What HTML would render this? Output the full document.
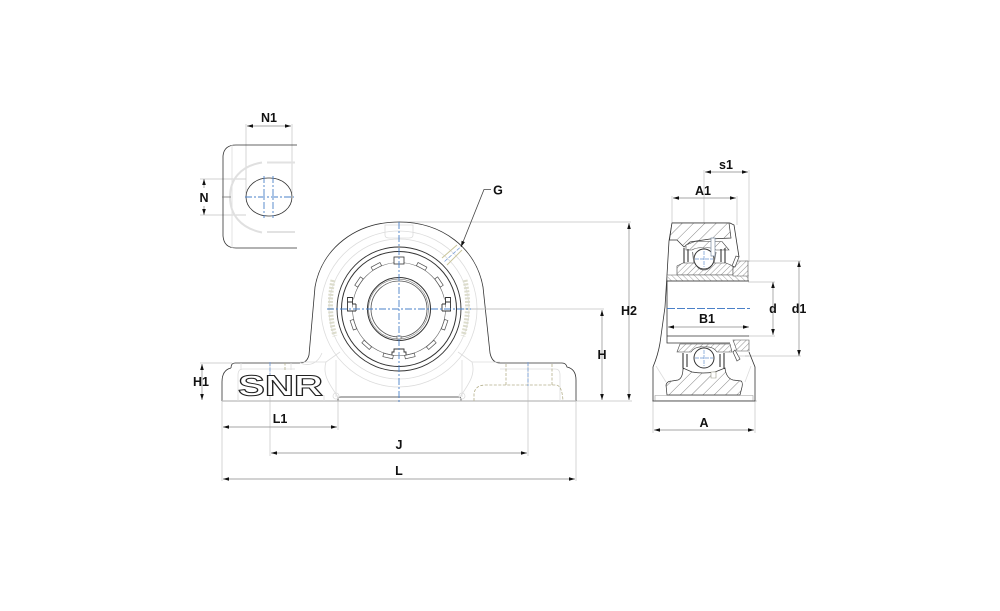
<!DOCTYPE html>
<html><head><meta charset="utf-8"><style>
html,body{margin:0;padding:0;background:#fff;width:1000px;height:611px;overflow:hidden}
svg{display:block}
text{font-family:"Liberation Sans",sans-serif;font-weight:700;font-size:12.5px;fill:#111;text-anchor:middle}
.k{fill:none;stroke:#333;stroke-width:.8}
.g{fill:none;stroke:#dcdcdc;stroke-width:.8}
.e{fill:none;stroke:#c4c4c4;stroke-width:.7}
.d{fill:none;stroke:#888;stroke-width:.7;marker-start:url(#a);marker-end:url(#a)}
.b{fill:none;stroke:#4a80c8;stroke-width:.9;stroke-dasharray:7 2 2 2}
.y{fill:none;stroke:#b5b08c;stroke-width:.8;stroke-dasharray:3 1.5}
.s{stroke:#444;stroke-width:.6}
</style></head><body>
<svg width="1000" height="611" viewBox="0 0 1000 611" xmlns="http://www.w3.org/2000/svg">
<defs>
<marker id="a" viewBox="0 0 10 6" refX="10" refY="3" markerWidth="6.500" markerHeight="3.600" markerUnits="userSpaceOnUse" orient="auto-start-reverse"><path d="M0 0L10 3L0 6Z" fill="#111"/></marker>
<pattern id="h" width="8" height="8" patternUnits="userSpaceOnUse" patternTransform="rotate(45)"><rect width="8" height="8" fill="#fff"/><line x1="0" y1="0" x2="0" y2="8" stroke="#777" stroke-width=".9"/></pattern>
<pattern id="h2" width="4" height="4" patternUnits="userSpaceOnUse" patternTransform="rotate(-45)"><rect width="4" height="4" fill="#fff"/><line x1="0" y1="0" x2="0" y2="4" stroke="#888" stroke-width=".8"/></pattern>
<pattern id="h3" width="4" height="4" patternUnits="userSpaceOnUse" patternTransform="rotate(45)"><rect width="4" height="4" fill="#fff"/><line x1="0" y1="0" x2="0" y2="4" stroke="#777" stroke-width=".8"/></pattern>
</defs>

<!-- extension lines -->
<g class="e">
<path d="M399 222H631M460 309H604M222 401H632M652 401H757"/>
<path d="M200 363H232M200 179H246M200 215H246"/>
<path d="M222 401V481M338 398V430M270 363V456M528 363V456M576 401V481"/>
<path d="M246 124V196M292 124V196"/>
<path d="M672 196V225M737 196V225M704 170V224M749 170V262M653 401V433M755 401V433"/>
<path d="M745 261H801M745 356H801M748 282H775M748 336H775"/>
</g>

<!-- top-left view -->
<path class="k" d="M297 145H236Q224 145 223 156V236Q224 248 236 248H297"/>
<path class="g" d="M232 145V248"/>
<path d="M262 162.500C240 166 230 180 230 197C230 214 240 228 262 232.500" fill="none" stroke="#e0e0e0" stroke-width="2"/>
<path d="M267 162.500H295M267 232H295" fill="none" stroke="#e2e2e2" stroke-width="2"/>
<path d="M222 197H231" stroke="#777" stroke-width=".8"/>
<rect x="246" y="178" width="46" height="38" rx="22" ry="19" class="k"/>
<path class="b" d="M245 197H294M264 176V218M273 176V218"/>

<!-- main body -->
<path class="k" d="M231 368Q231 363 235 363H300Q307 363 309 355L315 287C322 248 356 222 399 222C442 222 476 248 483 287L490 353Q492 363 500 363H562Q566 363 567 367Q576 369 576 380V401"/>
<path class="k" d="M231 368Q222 370 222 382V401"/>
<path class="k" d="M338 401V398Q338 397 341 397H458Q461 397 461 399V401"/>
<path d="M222 401H576" stroke="#bbb" stroke-width="1.200" fill="none"/>
<g class="g">
<circle cx="399" cy="309" r="70"/>
<circle cx="399" cy="309" r="78"/>
<path d="M338 397C330 385 322 375 326 362L340 352M460 397C468 385 476 375 472 362L458 352"/>
<path d="M326 362H300M472 362H500M336 397V360M462 397V360"/>
<path d="M385 225H413V235Q413 238 409 238H389Q385 238 385 235Z"/>
<path d="M238 401V375Q238 369 243 369H295M560 401V375Q560 369 555 369H500"/>
<path d="M300 363C310 367 318 363 322 353"/>
<circle cx="336" cy="396" r="3"/><circle cx="462" cy="396" r="3"/>
</g>
<path d="M442 258L457 245M447 265L462 250" fill="none" stroke="#c9c59a" stroke-width="1"/>
<path d="M444.500 261.500L460 247.500" fill="none" stroke="#7aa0d8" stroke-width=".8" stroke-dasharray="4 1.500"/>
<path d="M333 280Q327 309 335 336M465 280Q471 309 463 336" fill="none" stroke="#dcdccc" stroke-width="5" stroke-dasharray="2 1.500"/>
<g class="k">
<circle cx="399" cy="309" r="62" stroke-width=".9"/>
<circle cx="399" cy="309" r="57.500" stroke-width="1"/>
<circle cx="399" cy="309" r="46.500" stroke="#666" stroke-width=".6"/>
<circle cx="399" cy="309" r="31.500" stroke-width="1"/>
<circle cx="398.500" cy="309" r="30" stroke="#555" stroke-width=".5"/>
<circle cx="399" cy="309" r="28" stroke="#555"/>
</g>
<rect x="394" y="257" width="10" height="7" fill="#fff" stroke="#333" stroke-width=".8"/>
<rect x="397" y="336" width="4" height="3" fill="#fff" stroke="#555" stroke-width=".6"/>
<g stroke="#555" fill="#fff" stroke-width=".7">
<rect x="-5" y="-50" width="10" height="3.500" transform="translate(399 309) rotate(28)"/>
<rect x="-5" y="-50" width="10" height="3.500" transform="translate(399 309) rotate(56)"/>
<rect x="-5" y="-50" width="10" height="3.500" transform="translate(399 309) rotate(-28)"/>
<rect x="-5" y="-50" width="10" height="3.500" transform="translate(399 309) rotate(-56)"/>
<rect x="-5" y="-50" width="10" height="3.500" transform="translate(399 309) rotate(109)"/>
<rect x="-5" y="-50" width="10" height="3.500" transform="translate(399 309) rotate(138)"/>
<rect x="-5" y="-50" width="10" height="3.500" transform="translate(399 309) rotate(167)"/>
<rect x="-5" y="-50" width="10" height="3.500" transform="translate(399 309) rotate(193)"/>
<rect x="-5" y="-50" width="10" height="3.500" transform="translate(399 309) rotate(222)"/>
<rect x="-5" y="-50" width="10" height="3.500" transform="translate(399 309) rotate(251)"/>
</g>
<path d="M352.500 302H347.500V297.500H352.500V302M347.500 302V311H356M356 311V304M352.500 297.500V304H356" fill="#fff" stroke="#333" stroke-width=".9"/>
<path d="M445.500 302H450.500V297.500H445.500V302M450.500 302V311H442M442 311V304M445.500 297.500V304H442" fill="#fff" stroke="#333" stroke-width=".9"/>
<path d="M392 355V352H394V349H404V352H406V355" fill="#fff" stroke="#333" stroke-width=".9"/>
<!-- foot hidden -->
<path class="y" d="M474 401V394Q475 385 486 385H556Q562 385 563 401M506 385V363M552 385V363M285 370V363"/>
<path class="g" d="M241 370V363M291 370V363M238 401V395M324 401V395"/>
<path d="M270 362V386M528 362V386" stroke="#7aa0d8" stroke-width=".9" stroke-dasharray="4 1.500" fill="none"/>
<path class="b" d="M399 222V402M327 309H471"/>
<path d="M471 309H510" stroke="#bbb" stroke-width=".7"/>
<!-- SNR logo text -->
<text x="280.500" y="395.500" style="font-size:29px;fill:#fff;stroke:#222;stroke-width:1" textLength="85" lengthAdjust="spacingAndGlyphs">SNR</text>

<!-- right view: outline -->
<path class="k" d="M672 223H730L734 225L739 257M672 223L669 241L667 275L665 307L660 343Q658 355 653 367V401H755V367L749 352"/>
<path class="g" d="M656 366L666 382M751 366L745 382"/>
<!-- housing upper -->
<path d="M672 223H729L731 238L710 239L690 242L684 247L677 240H669.500Z" fill="url(#h)" stroke="#333" stroke-width=".7"/>
<!-- outer ring upper -->
<path d="M686 245L695 241.500H722L729 250H716Q711 247 704 248Q697 247 692 250H686Z" fill="url(#h)" class="s"/>
<!-- housing lower -->
<path d="M667 395L666 385Q667 381 672 381L678 380Q683 378 683 368L692 372Q698 373 703 373Q709 373 715 372L725 368Q726 378 733 380L741 381Q743 382 742 387L740 395Z" fill="url(#h)" stroke="#333" stroke-width=".7"/>
<path d="M655 395.500H753V400.500H655Z" fill="#fff" stroke="#999" stroke-width=".6"/>
<!-- inner ring upper -->
<path d="M677 266L683 263H695Q698 270 704 270Q710 270 713 263H726L733 266V275H677Z" fill="url(#h3)" class="s"/>
<!-- sleeve -->
<path d="M667 275H748V281H667Z" fill="url(#h2)" stroke="#555" stroke-width=".6"/>
<!-- collar upper -->
<path d="M737 261H748V276H733V268Z" fill="url(#h3)" stroke="#555" stroke-width=".6"/>
<circle cx="704" cy="259" r="10" fill="#fff" stroke="#333"/>
<path d="M684 248V263M688 249V262M725 248V263M721 249V262" stroke="#222" stroke-width="1"/>
<path d="M692.500 252L694 263M716 252L714 263" stroke="#777" stroke-width="1"/>
<path d="M711 238H715V256H711Z" fill="#fff" stroke="#7a8ba0" stroke-width=".7"/>
<path d="M732 266L736 256L739 257L735 267Z" fill="#fff" stroke="#444" stroke-width=".7"/>
<!-- bore -->
<path class="k" d="M667 281H749M667 336H749M667 281V343H730"/>
<!-- inner ring lower -->
<path d="M677 352L680 344H730L732 352H717Q713 346 704 347Q695 346 691 352Z" fill="url(#h3)" class="s"/>
<!-- collar lower -->
<path d="M733 340H749V351H737Z" fill="url(#h3)" stroke="#555" stroke-width=".6"/>
<circle cx="704" cy="358" r="10" fill="#fff" stroke="#333"/>
<path d="M683 353V368M687 354V367M724 353V368M720 354V367" stroke="#222" stroke-width="1"/>
<path d="M733 352L737 361L740 359L735 350Z" fill="#fff" stroke="#444" stroke-width=".7"/>
<path d="M711 372H716V378H711Z" fill="#fff" stroke="#998" stroke-width=".6"/>
<path d="M737 351H749M738 356H749" stroke="#aaa" stroke-width=".6"/>
<path class="b" d="M667 308.500H750" style="stroke-dasharray:8 2"/>
<path d="M695 259H713M704 251V267M695 358H713M704 350V366" stroke="#6a94d0" stroke-width=".7" fill="none" stroke-dasharray="4 1"/>

<!-- dimensions -->
<g class="d">
<path d="M247 126H291"/>
<path d="M204 179V188" style="marker-end:none"/>
<path d="M204 206V215" style="marker-start:none"/>
<path d="M202 364V400"/>
<path d="M223 427H337"/>
<path d="M271 453H527"/>
<path d="M223 479H575"/>
<path d="M602 310V400"/>
<path d="M629 223V400"/>
<path d="M673 198H736"/>
<path d="M705 172H748"/>
<path d="M654 430H754"/>
<path d="M668 327H749"/>
<path d="M773 282V335"/>
<path d="M799 261V356"/>
</g>
<path d="M491 189.500H484L461 247" fill="none" stroke="#444" stroke-width=".8" marker-end="url(#a)"/>

<text x="269" y="122">N1</text>
<text x="204" y="202">N</text>
<text x="498" y="194.500">G</text>
<text x="629" y="315">H2</text>
<text x="602" y="359">H</text>
<text x="201" y="386">H1</text>
<text x="280" y="423">L1</text>
<text x="399" y="449">J</text>
<text x="399" y="475">L</text>
<text x="726" y="169">s1</text>
<text x="703" y="195">A1</text>
<text x="707" y="323">B1</text>
<text x="773" y="313">d</text>
<text x="799" y="313">d1</text>
<text x="704" y="427">A</text>
</svg>
</body></html>
